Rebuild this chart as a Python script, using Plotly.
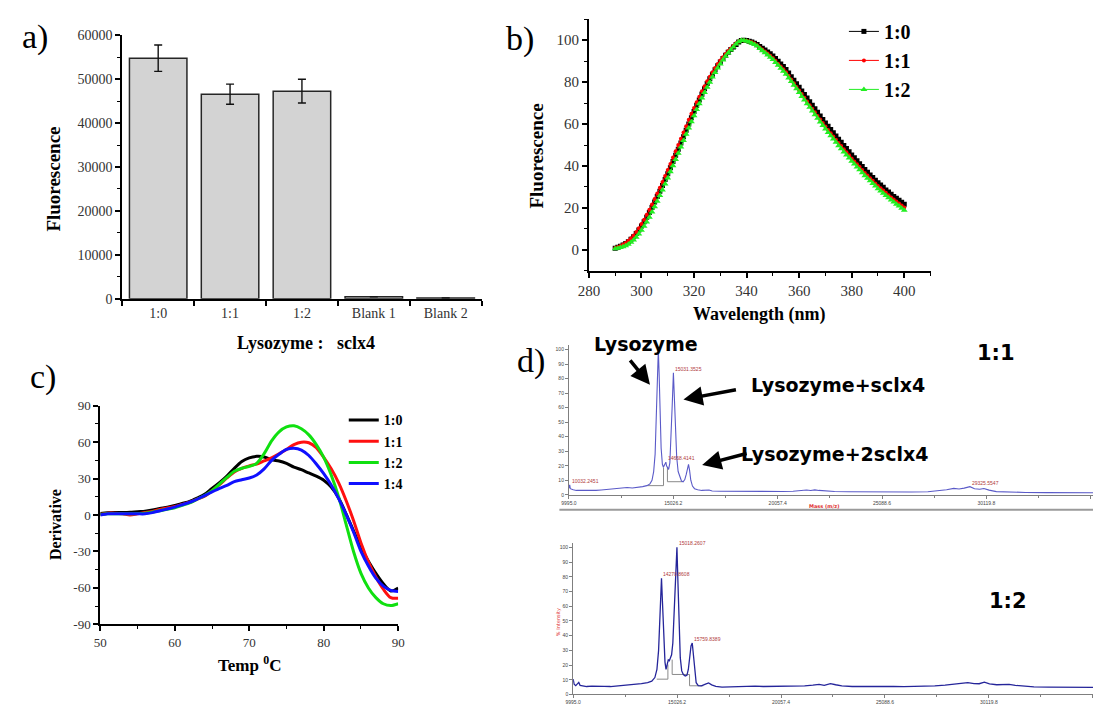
import plotly.graph_objects as go

W, H = 1099, 710
SERIF = "Liberation Serif, Times New Roman, serif"
SANS = "DejaVu Sans, sans-serif"
TICK_GREY = "#333333"

# ---------------- a) fluorescence intensity per mixing ratio ----------------
ratio_labels = ["1:0", "1:1", "1:2", "Blank 1", "Blank 2"]
fluor_mean = [54800, 46600, 47300, 420, 150]
fluor_err = [3000, 2300, 2700, None, None]

# ---------------- b) normalised emission spectra ----------------
wavelength = list(range(290, 401))
em_1_0 = [
    0.8, 1.2, 1.7, 2.3, 3.0, 3.9, 5.0, 6.3, 7.8, 9.5,
    11.4, 13.4, 15.5, 17.8, 20.2, 22.8, 25.4, 28.0, 30.7, 33.5,
    36.3, 39.2, 42.1, 45.1, 48.0, 51.0, 54.0, 57.0, 60.0, 63.0,
    66.0, 68.8, 71.5, 74.2, 76.8, 79.3, 81.6, 83.8, 85.9, 87.8,
    89.6, 91.3, 92.8, 94.2, 95.6, 96.8, 98.0, 99.1, 99.8, 100.0,
    99.8, 99.5, 99.1, 98.6, 98.0, 97.0, 96.2, 95.3, 94.4, 93.5,
    92.5, 91.3, 90.0, 88.7, 87.4, 86.0, 84.3, 82.6, 80.9, 79.2,
    77.5, 75.8, 74.1, 72.4, 70.7, 69.0, 67.3, 65.6, 63.9, 62.2,
    60.5, 58.9, 57.4, 55.8, 54.3, 52.8, 51.3, 49.8, 48.3, 46.8,
    45.3, 43.9, 42.5, 41.1, 39.7, 38.3, 37.0, 35.7, 34.5, 33.2,
    32.0, 30.9, 29.8, 28.6, 27.6, 26.5, 25.5, 24.6, 23.6, 22.7,
    21.7,
]
em_1_1 = [
    0.9, 1.3, 1.8, 2.5, 3.3, 4.3, 5.5, 6.9, 8.5, 10.3,
    12.3, 14.4, 16.7, 19.1, 21.6, 24.2, 26.9, 29.6, 32.4, 35.2,
    38.1, 41.0, 44.0, 47.0, 50.0, 53.0, 56.0, 59.0, 62.0, 64.9,
    67.7, 70.4, 73.0, 75.6, 78.0, 80.4, 82.6, 84.7, 86.7, 88.6,
    90.3, 91.9, 93.4, 94.8, 96.0, 97.3, 98.5, 99.4, 100.0, 99.9,
    99.7, 99.4, 99.0, 98.4, 97.5, 96.5, 95.6, 94.6, 93.6, 92.6,
    91.5, 90.2, 88.8, 87.5, 86.1, 84.7, 83.0, 81.2, 79.5, 77.7,
    76.0, 74.3, 72.5, 70.8, 69.0, 67.3, 65.6, 63.9, 62.2, 60.5,
    58.8, 57.2, 55.6, 54.1, 52.5, 51.0, 49.5, 48.0, 46.6, 45.1,
    43.6, 42.2, 40.8, 39.5, 38.1, 36.7, 35.5, 34.2, 33.0, 31.7,
    30.5, 29.4, 28.3, 27.2, 26.1, 25.0, 24.0, 23.1, 22.1, 21.2,
    20.2,
]
em_1_2 = [
    0.5, 0.8, 1.1, 1.5, 2.0, 2.7, 3.6, 4.7, 6.0, 7.5,
    9.3, 11.2, 13.3, 15.6, 18.0, 20.6, 23.2, 25.9, 28.6, 31.4,
    34.3, 37.2, 40.1, 43.1, 46.1, 49.1, 52.1, 55.1, 58.1, 61.1,
    64.0, 66.9, 69.7, 72.4, 75.0, 77.6, 80.0, 82.4, 84.6, 86.7,
    88.7, 90.6, 92.3, 93.9, 95.3, 96.8, 98.2, 99.3, 100.0, 99.8,
    99.5, 99.1, 98.6, 98.0, 97.2, 96.0, 95.0, 94.0, 93.0, 91.9,
    90.8, 89.4, 88.0, 86.6, 85.2, 83.8, 82.0, 80.3, 78.5, 76.8,
    75.0, 73.2, 71.5, 69.7, 68.0, 66.2, 64.5, 62.8, 61.0, 59.3,
    57.6, 56.0, 54.4, 52.9, 51.3, 49.7, 48.2, 46.7, 45.3, 43.8,
    42.3, 40.9, 39.5, 38.2, 36.8, 35.4, 34.2, 32.9, 31.7, 30.4,
    29.2, 28.1, 27.0, 25.9, 24.9, 23.8, 22.8, 21.8, 20.9, 19.9,
    18.9,
]

# ---------------- c) first-derivative melting curves ----------------
temperature = list(range(50, 91))
deriv_1_0 = [
    1.3, 1.8, 2.0, 2.0, 2.2, 2.8, 3.2, 4.2, 5.4, 6.5,
    7.8, 9.5, 11.3, 14.0, 17.0, 22.0, 26.6, 32.0, 38.5, 44.0,
    47.0, 48.3, 47.8, 45.5, 44.5, 42.5, 39.5, 37.3, 34.6, 32.0,
    28.7, 23.0, 14.0, 1.0, -13.0, -27.0, -38.0, -48.0, -56.5, -62.5,
    -60.0,
]
deriv_1_1 = [
    0.5, 1.5, 1.5, 1.0, 0.0, 1.0, 2.0, 3.0, 4.5, 5.8,
    7.0, 8.8, 10.5, 13.0, 15.5, 20.0, 25.0, 30.5, 35.5, 38.5,
    40.5, 42.0, 44.5, 47.0, 50.5, 54.0, 58.0, 60.0, 59.5, 55.5,
    47.5, 38.0, 26.5, 12.0, -4.5, -23.0, -38.5, -51.0, -61.0, -68.0,
    -68.5,
]
deriv_1_2 = [
    0.5, 1.0, 1.0, 1.0, 1.0, 1.2, 1.5, 2.5, 3.5, 4.8,
    6.0, 8.0, 10.0, 13.0, 16.0, 20.0, 25.5, 31.0, 36.0, 38.5,
    40.0, 42.5, 50.5, 61.0, 68.5, 72.5, 73.5, 71.0, 66.0, 58.0,
    47.5, 33.0, 15.0, -7.5, -30.0, -48.0, -60.0, -68.0, -73.0, -74.5,
    -73.0,
]
deriv_1_4 = [
    0.0, 1.0, 1.0, 1.0, 1.0, 1.0, 1.0, 2.0, 3.5, 5.0,
    6.5, 8.5, 10.5, 13.0, 16.0, 19.0, 22.0, 24.5, 27.5, 29.0,
    30.5, 33.0, 38.0, 45.0, 50.0, 54.0, 55.0, 53.5, 49.0, 42.0,
    34.0, 24.7, 13.5, 0.5, -14.0, -30.0, -42.0, -52.0, -58.5, -62.0,
    -63.0,
]
deriv_ticks = [-90, -60, -30, 0, 30, 60, 90]
deriv_tick_text = ["-90", "-60", "-30", "0", "30", "60", "90"]

# ---------------- d) MALDI-TOF spectra (mass, relative intensity) ----------------
ms11_mass = [
    9995, 10005, 10032.2451, 10060, 10110, 10200, 10350, 10550, 10800, 11050,
    11300, 11550, 11800, 12050, 12300, 12550, 12800, 13050, 13300, 13550,
    13750, 13900, 14000, 14080, 14150, 14210, 14260, 14305, 14340, 14390,
    14440, 14500, 14550, 14600, 14640, 14668.4141, 14700, 14760, 14800, 14860,
    14920, 14975, 15031.3525, 15080, 15130, 15190, 15260, 15340, 15420, 15500,
    15580, 15650, 15710, 15760, 15810, 15870, 15950, 16050, 16200, 16400,
    16750, 16900, 17300, 17800, 18300, 18800, 19300, 19800, 20300, 20800,
    21200, 21450, 21650, 21850, 22050, 22300, 22800, 23500, 24500, 25500,
    26500, 27300, 27800, 28200, 28550, 28800, 29050, 29325.5547, 29550, 29800,
    30000, 30250, 30600, 31200, 32000, 33000, 34000, 35260,
]
ms11_int = [
    4.5, 6.0, 6.9, 4.2, 3.8, 3.4, 3.0, 2.9, 3.0, 2.8,
    3.0, 3.3, 3.7, 3.9, 4.3, 4.8, 5.0, 4.7, 5.0, 5.6,
    6.3, 7.5, 10.0, 16.0, 28.0, 55.0, 85.0, 100.0, 85.0, 55.0,
    32.0, 21.0, 19.0, 20.5, 22.0, 22.5, 20.0, 18.5, 17.5, 22.0,
    38.0, 62.0, 84.0, 68.0, 45.0, 26.0, 16.0, 12.0, 9.5, 9.0,
    10.5, 14.0, 19.0, 21.0, 17.0, 10.0, 6.0, 4.2, 3.5, 3.0,
    3.3, 2.6, 2.4, 2.3, 2.2, 2.2, 2.1, 2.2, 2.3, 2.4,
    2.9, 3.3, 2.9, 3.4, 3.0, 2.6, 2.3, 2.1, 1.9, 1.8,
    1.9, 2.1, 2.6, 3.5, 4.4, 4.0, 4.6, 5.6, 4.2, 3.8,
    4.3, 3.2, 2.2, 1.8, 1.6, 1.5, 1.5, 1.4,
]
ms11_peak_labels = [
    (10032.2451, 6.9, "10032.2451"),
    (14668.4141, 22.5, "14668.4141"),
    (15031.3525, 84.0, "15031.3525"),
    (29325.5547, 5.6, "29325.5547"),
]
ms11_base_mass = [13770, 14555, 14555, None, 14743, 14743, 15466]
ms11_base_int = [6.3, 6.3, 18.8, None, 18.8, 9.0, 9.0]

ms12_mass = [
    9995, 10040, 10120, 10200, 10266, 10330, 10450, 10650, 10900, 11200,
    11500, 11800, 12100, 12400, 12700, 13000, 13300, 13600, 13800, 13950,
    14050, 14130, 14200, 14270.8608, 14320, 14380, 14440, 14490, 14540, 14600,
    14650, 14700, 14760, 14820, 14880, 14950, 15018.2607, 15070, 15120, 15180,
    15250, 15330, 15420, 15500, 15570, 15640, 15700, 15759.8389, 15820, 15880,
    15950, 16050, 16200, 16400, 16550, 16700, 16900, 17200, 17600, 18000,
    18400, 18800, 19200, 19600, 20000, 20400, 20800, 21200, 21600, 21900,
    22150, 22450, 22700, 23000, 23500, 24000, 24500, 25000, 25500, 26000,
    26500, 27000, 27500, 28000, 28400, 28800, 29100, 29400, 29650, 29900,
    30150, 30500, 30800, 31100, 31400, 31800, 32300, 33000, 33800, 34500,
    35160,
]
ms12_int = [
    10.5, 7.0, 6.0, 7.0, 8.2, 6.2, 5.8, 5.4, 5.6, 5.3,
    5.5, 5.4, 5.7, 6.0, 6.4, 6.8, 7.3, 8.0, 9.0, 11.5,
    17.0, 30.0, 55.0, 79.0, 62.0, 38.0, 22.0, 17.0, 20.0, 23.5,
    23.0, 25.0, 27.0, 35.0, 55.0, 82.0, 100.0, 75.0, 45.0, 25.0,
    16.0, 13.5, 12.5, 13.0, 17.0, 26.0, 33.0, 35.0, 25.0, 14.0,
    8.0, 6.0, 5.8, 7.0, 7.8, 6.5, 5.5, 5.0, 5.2, 5.4,
    5.3, 5.6, 5.4, 5.5, 5.7, 5.4, 5.6, 5.8, 6.3, 6.8,
    6.2, 7.4, 6.6, 5.8, 5.4, 5.5, 5.3, 5.2, 5.4, 5.3,
    5.4, 5.6, 5.9, 6.4, 7.0, 7.6, 8.0, 7.4, 7.3, 8.4,
    7.2, 6.6, 6.8, 6.9, 6.2, 5.6, 5.2, 5.0, 4.8, 4.9,
    4.8,
]
ms12_peak_labels = [
    (14270.8608, 79.0, "14270.8608"),
    (15018.2607, 100.0, "15018.2607"),
    (15759.8389, 35.0, "15759.8389"),
]
ms12_base_mass = [14041, 14581, 14581, None, 14787, 14787, 15629, 15629, 16296]
ms12_base_int = [10.4, 10.4, 20.4, None, 23.7, 13.6, 13.6, 5.9, 5.9]

mass_tick0 = 9995.0
mass_tick_step = 5031.2


def fx(p):
    """pixel column -> paper x"""
    return p / W


def fy(p):
    """pixel row -> paper y"""
    return 1 - p / H


fig = go.Figure()

# a) bars with error bars
fig.add_trace(go.Bar(
    x=ratio_labels, y=fluor_mean, width=0.8,
    marker=dict(color="#d3d3d3", line=dict(color="#262626", width=1.5)),
    error_y=dict(type="data", array=fluor_err, color="#111111", thickness=1.4, width=4),
    xaxis="x", yaxis="y", showlegend=False,
))

# b) emission spectra
for yv, name, col, sym, sz in [
    (em_1_0, "1:0", "#000000", "square", 5),
    (em_1_1, "1:1", "#ff0000", "circle", 4),
    (em_1_2, "1:2", "#22ee22", "triangle-up", 6),
]:
    fig.add_trace(go.Scatter(
        x=wavelength, y=yv, name=name, mode="lines+markers",
        line=dict(color=col, width=1),
        marker=dict(symbol=sym, size=sz, color=col, line=dict(width=0)),
        xaxis="x2", yaxis="y2", legend="legend",
    ))

# c) derivative curves
for yv, name, col in [
    (deriv_1_0, "1:0", "#000000"),
    (deriv_1_1, "1:1", "#ff1010"),
    (deriv_1_2, "1:2", "#10e010"),
    (deriv_1_4, "1:4", "#1010ff"),
]:
    fig.add_trace(go.Scatter(
        x=temperature, y=yv, name=name, mode="lines",
        line=dict(color=col, width=3, shape="spline", smoothing=0.8),
        xaxis="x3", yaxis="y3", legend="legend2",
    ))

# d) mass spectra
fig.add_trace(go.Scatter(x=ms11_base_mass, y=ms11_base_int, mode="lines",
                         line=dict(color="#8a8a8a", width=1), connectgaps=False,
                         xaxis="x4", yaxis="y4", showlegend=False))
fig.add_trace(go.Scatter(x=ms11_mass, y=ms11_int, mode="lines",
                         line=dict(color="#5a5ac8", width=1.1),
                         xaxis="x4", yaxis="y4", showlegend=False))
fig.add_trace(go.Scatter(x=ms12_base_mass, y=ms12_base_int, mode="lines",
                         line=dict(color="#8a8a8a", width=1), connectgaps=False,
                         xaxis="x5", yaxis="y5", showlegend=False))
fig.add_trace(go.Scatter(x=ms12_mass, y=ms12_int, mode="lines",
                         line=dict(color="#25259a", width=1.3),
                         xaxis="x5", yaxis="y5", showlegend=False))


def frame_axis(size, **kw):
    base = dict(
        showline=True, linecolor="black", linewidth=2,
        ticks="outside", tickcolor="black", tickwidth=1.5, ticklen=5,
        showgrid=False, zeroline=False, fixedrange=True,
        tickfont=dict(family=SERIF, size=size, color=TICK_GREY),
    )
    base.update(kw)
    return base


def ms_axis(**kw):
    base = dict(
        showline=True, linecolor="#7f7f7f", linewidth=1,
        ticks="outside", tickcolor="#7f7f7f", tickwidth=1, ticklen=3,
        showgrid=False, zeroline=False, fixedrange=True,
        tickfont=dict(family="Arial, Liberation Sans, sans-serif", size=5, color="#444444"),
    )
    base.update(kw)
    return base


minor_a = dict(ticks="outside", ticklen=3, tickcolor="black", tickwidth=1.2, showgrid=False)

fig.update_layout(
    width=W, height=H,
    margin=dict(l=0, r=0, t=0, b=0),
    paper_bgcolor="white", plot_bgcolor="white",
    bargap=0.2,
    xaxis=frame_axis(14, domain=[fx(113), fx(478)], anchor="y", type="category",
                     tickson="boundaries", range=[-0.5, 4.5]),
    yaxis=frame_axis(14, domain=[fy(298), fy(29)], anchor="x", range=[0, 60000],
                     dtick=10000, tickformat="d", minor=dict(dtick=5000, **minor_a)),
    xaxis2=frame_axis(15, domain=[fx(587), fx(934)], anchor="y2", range=[280, 410],
                      dtick=20, minor=dict(dtick=10, **minor_a)),
    yaxis2=frame_axis(15, domain=[fy(269.5), fy(12.5)], anchor="x2", range=[-10, 110],
                      tick0=0, dtick=20, minor=dict(tick0=0, dtick=10, **minor_a)),
    xaxis3=frame_axis(13, domain=[fx(90.7), fx(393.3)], anchor="y3", range=[50, 90],
                      dtick=10, minor=dict(dtick=5, **minor_a)),
    yaxis3=frame_axis(13, domain=[fy(630.7), fy(407.3)], anchor="x3", range=[-90, 90],
                      tickmode="array", tickvals=deriv_ticks, ticktext=deriv_tick_text,
                      minor=dict(tick0=0, dtick=15, **minor_a)),
    xaxis4=ms_axis(domain=[fx(566.7), 1.0], anchor="y4", range=[9995, 35260],
                   tick0=mass_tick0, dtick=mass_tick_step, tickformat=".1f",
                   minor=dict(tick0=mass_tick0, dtick=mass_tick_step / 2, ticks="outside",
                              ticklen=2, tickcolor="#7f7f7f")),
    yaxis4=ms_axis(domain=[fy(498.3), fy(345)], anchor="x4", range=[0, 103.4],
                   tick0=0, dtick=10),
    xaxis5=ms_axis(domain=[fx(571), 1.0], anchor="y5", range=[9995, 35160],
                   tick0=mass_tick0, dtick=mass_tick_step, tickformat=".1f",
                   minor=dict(tick0=mass_tick0, dtick=mass_tick_step / 2, ticks="outside",
                              ticklen=2, tickcolor="#7f7f7f")),
    yaxis5=ms_axis(domain=[fy(702.3), fy(548)], anchor="x5", range=[0, 102.7],
                   tick0=0, dtick=10),
    legend=dict(x=fx(846), y=fy(5), xanchor="left", yanchor="top",
                bgcolor="rgba(0,0,0,0)", borderwidth=0, tracegroupgap=0,
                font=dict(family=SERIF, size=20, color="black", weight="bold")),
    legend2=dict(x=fx(338), y=fy(406), xanchor="left", yanchor="top",
                 bgcolor="rgba(0,0,0,0)", borderwidth=0, tracegroupgap=0,
                 font=dict(family=SERIF, size=14, color="black", weight="bold")),
)

ann = []


def text(x, y, s, size, family=SERIF, bold=False, angle=0, color="black", **kw):
    ann.append(dict(
        x=fx(x), y=fy(y), xref="paper", yref="paper", text=s, showarrow=False,
        xanchor="center", yanchor="middle", textangle=angle,
        font=dict(family=family, size=size, color=color, weight="bold" if bold else "normal"),
        **kw,
    ))


# panel letters
text(24, 31, "a)", 34)
text(517, 33, "b)", 34)
text(33, 378, "c)", 34)
text(528, 362, "d)", 34)

# axis titles
text(43, 176, "Fluorescence", 19, bold=True, angle=-90)
text(300, 343, "Lysozyme\u00a0:\u00a0\u00a0\u00a0sclx4", 18, bold=True)
text(534, 152, "Fluorescence", 19, bold=True, angle=-90)
text(760, 314, "Wavelength (nm)", 18, bold=True)
text(46, 529, "Derivative", 16, bold=True, angle=-90)
text(242, 671, "Temp <sup>0</sup>C", 17, bold=True)

# mass-spectrum captions
text(826, 510, "Mass (m/z)", 5, family=SANS, bold=True, color="#e03030")
text(556, 628, "% Intensity", 5, family=SANS, angle=-90, color="#e03030")
text(645, 344, "Lysozyme", 19, family=SANS, bold=True)
text(840, 386, "Lysozyme+sclx4", 19, family=SANS, bold=True)
text(836, 457, "Lysozyme+2sclx4", 19, family=SANS, bold=True)
text(1000, 353, "1:1", 21, family=SANS, bold=True)
text(1013, 607, "1:2", 21, family=SANS, bold=True)

# peak labels sit at each apex
for xr, yr, labels in [("x4", "y4", ms11_peak_labels), ("x5", "y5", ms12_peak_labels)]:
    for m, v, s in labels:
        ann.append(dict(x=m, y=v, xref=xr, yref=yr, text=s, showarrow=False,
                        xanchor="left", yanchor="bottom", yshift=-1,
                        font=dict(family="Arial, Liberation Sans, sans-serif", size=5, color="#b03a3a")))

# pointer arrows
for hx, hy, tx, ty in [(649, 386, 628, 360), (683, 401, 737, 391), (702, 468, 748, 456)]:
    ann.append(dict(x=fx(hx), y=fy(hy), xref="paper", yref="paper", text="",
                    showarrow=True, arrowhead=2, arrowsize=1.1, arrowwidth=3.5,
                    arrowcolor="black", ax=tx - hx, ay=ty - hy, axref="pixel", ayref="pixel"))

fig.update_layout(annotations=ann)

# separator under the upper spectrum
fig.add_shape(type="line", xref="paper", yref="paper",
              x0=fx(557), x1=1.0, y0=fy(513.5), y1=fy(513.5),
              line=dict(color="#9a9a9a", width=2))

fig.write_html("out.html")
